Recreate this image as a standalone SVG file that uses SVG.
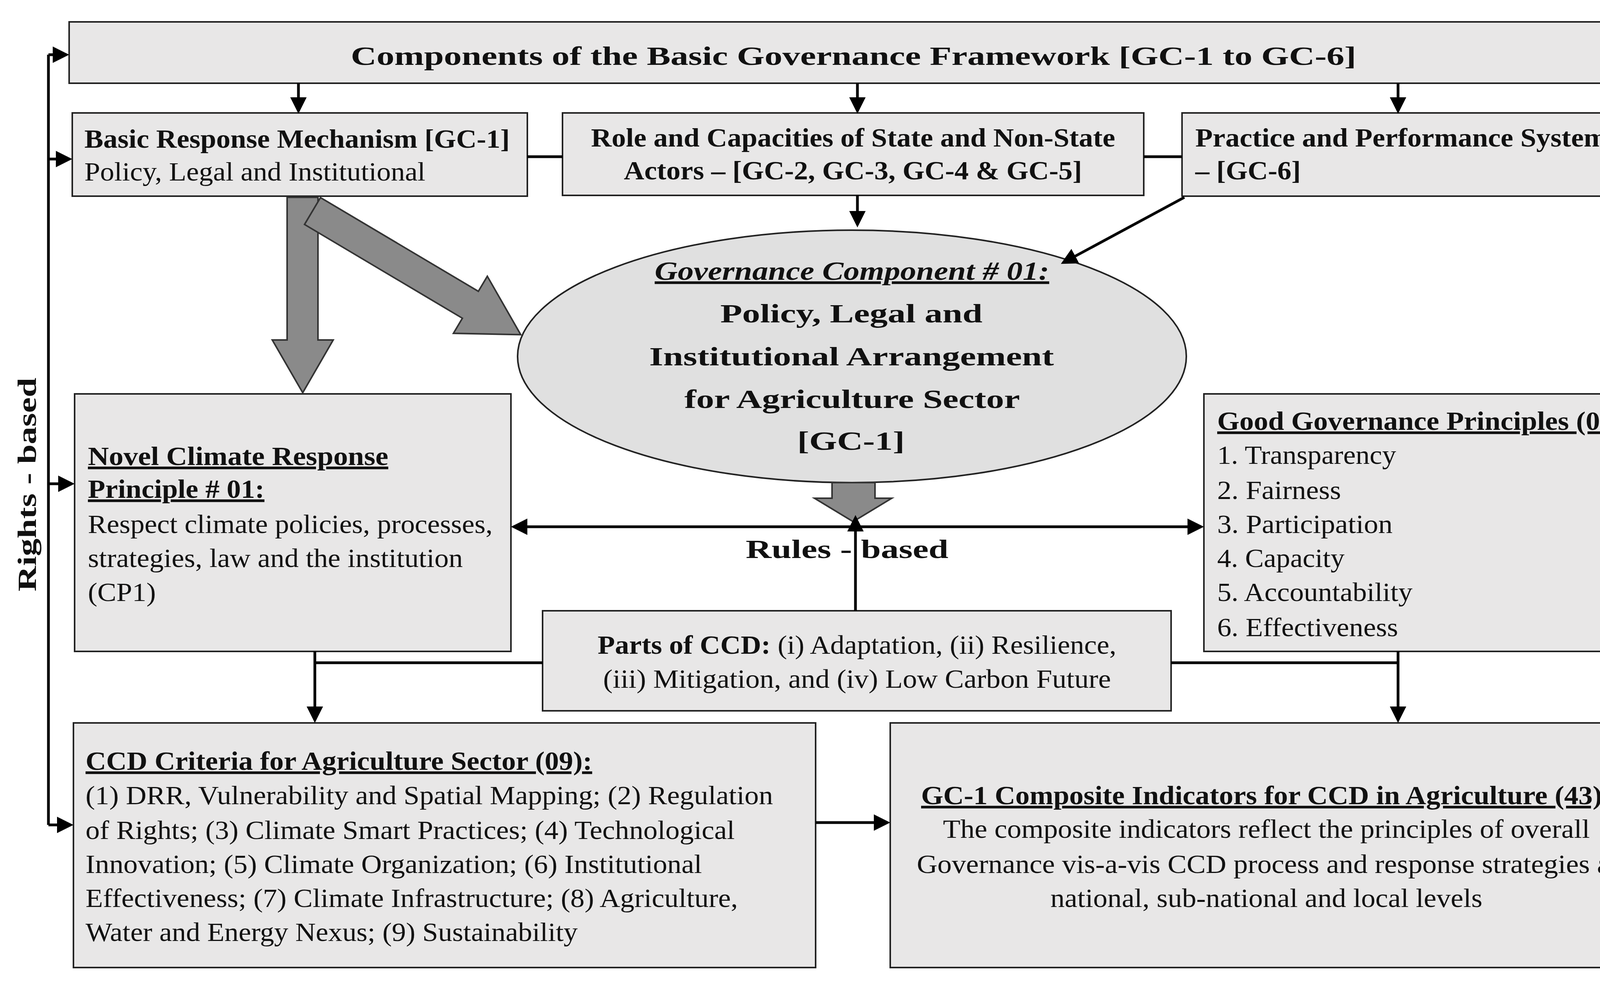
<svg xmlns="http://www.w3.org/2000/svg" width="4379" height="2513" viewBox="0 0 4379 2513">
<style>
.box{fill:#e8e7e7;stroke:#222;stroke-width:4}
.t{font-family:"Liberation Serif",serif;font-size:68px;fill:#111}
.b{font-weight:bold}
.u{text-decoration:underline}
.ln{stroke:#000;stroke-width:7;fill:none}
.blk{fill:#8a8a8a;stroke:#333;stroke-width:4}
</style>
<defs>
<marker id="ah" markerWidth="6" markerHeight="6" refX="5" refY="3" orient="auto" markerUnits="strokeWidth"><path d="M0,0 L6,3 L0,6 Z" fill="#000"/></marker>
<marker id="as" markerWidth="6" markerHeight="6" refX="1" refY="3" orient="auto" markerUnits="strokeWidth"><path d="M6,0 L0,3 L6,6 Z" fill="#000"/></marker>
</defs>
<rect width="4379" height="2513" fill="#fff"/>
<g id="top"><rect class="box" x="177" y="56" width="4022" height="157"/><text class="t b" x="898" y="166" font-size="88" textLength="2574" lengthAdjust="spacingAndGlyphs">Components of the Basic Governance Framework [GC-1 to GC-6]</text></g>
<g id="basic"><rect class="box" x="185" y="289" width="1165" height="213"/><text class="t b" x="216" y="378" textLength="1089" lengthAdjust="spacingAndGlyphs">Basic Response Mechanism  [GC-1]</text><text class="t" x="216" y="462" textLength="873" lengthAdjust="spacingAndGlyphs">Policy, Legal and Institutional</text></g>
<g id="role"><rect class="box" x="1440" y="289" width="1488" height="211"/><text class="t b" x="1513" y="375" textLength="1342" lengthAdjust="spacingAndGlyphs">Role and Capacities of State and Non-State</text><text class="t b" x="1597" y="459" textLength="1173" lengthAdjust="spacingAndGlyphs">Actors – [GC-2, GC-3, GC-4 &amp; GC-5]</text></g>
<g id="practice"><rect class="box" x="3026" y="289" width="1171" height="213"/><text class="t b" x="3060" y="375" textLength="1055" lengthAdjust="spacingAndGlyphs">Practice and Performance System</text><text class="t b" x="3060" y="459" textLength="270" lengthAdjust="spacingAndGlyphs">– [GC-6]</text></g>
<g id="gc1"><ellipse cx="2181" cy="912" rx="856" ry="323" fill="#e0e0e0" stroke="#222" stroke-width="4"/>
<text class="t b u" x="1676" y="716" font-size="74" font-style="italic" textLength="1010" lengthAdjust="spacingAndGlyphs">Governance Component # 01:</text>
<text class="t b" x="1844" y="825" font-size="88" textLength="671" lengthAdjust="spacingAndGlyphs">Policy, Legal and</text>
<text class="t b" x="1662" y="935" font-size="88" textLength="1036" lengthAdjust="spacingAndGlyphs">Institutional Arrangement</text>
<text class="t b" x="1752" y="1044" font-size="88" textLength="859" lengthAdjust="spacingAndGlyphs">for Agriculture Sector</text>
<text class="t b" x="2041" y="1151" font-size="88" textLength="275" lengthAdjust="spacingAndGlyphs">[GC-1]</text></g>
<g id="novel"><rect class="box" x="191" y="1008" width="1117" height="659"/>
<text class="t b u" x="225" y="1190" textLength="769" lengthAdjust="spacingAndGlyphs">Novel Climate  Response</text><text class="t b u" x="225" y="1274" textLength="452" lengthAdjust="spacingAndGlyphs">Principle  # 01:</text>
<text class="t" x="225" y="1364" textLength="1036" lengthAdjust="spacingAndGlyphs">Respect climate policies, processes,</text><text class="t" x="225" y="1451" textLength="960" lengthAdjust="spacingAndGlyphs">strategies, law and the institution</text><text class="t" x="225" y="1538" textLength="174" lengthAdjust="spacingAndGlyphs">(CP1)</text></g>
<g id="good"><rect class="box" x="3082" y="1008" width="1120" height="659"/>
<text class="t b u" x="3116" y="1100" textLength="1041" lengthAdjust="spacingAndGlyphs">Good Governance Principles  (06)</text>
<text class="t" x="3116" y="1187" textLength="458" lengthAdjust="spacingAndGlyphs">1.  Transparency</text><text class="t" x="3116" y="1277" textLength="317" lengthAdjust="spacingAndGlyphs">2.  Fairness</text><text class="t" x="3116" y="1364" textLength="449" lengthAdjust="spacingAndGlyphs">3.  Participation</text><text class="t" x="3116" y="1451" textLength="326" lengthAdjust="spacingAndGlyphs">4.  Capacity</text><text class="t" x="3116" y="1538" textLength="500" lengthAdjust="spacingAndGlyphs">5.  Accountability</text><text class="t" x="3116" y="1628" textLength="463" lengthAdjust="spacingAndGlyphs">6.  Effectiveness</text></g>
<g id="parts"><rect class="box" x="1389" y="1563" width="1609" height="256"/>
<text class="t" x="1530" y="1673" textLength="1328" lengthAdjust="spacingAndGlyphs"><tspan class="b">Parts of CCD:</tspan> (i) Adaptation,  (ii) Resilience,</text>
<text class="t" x="1544" y="1760" textLength="1300" lengthAdjust="spacingAndGlyphs">(iii) Mitigation, and (iv) Low Carbon Future</text></g>
<g id="criteria"><rect class="box" x="188" y="1850" width="1900" height="626"/>
<text class="t b u" x="219" y="1970" textLength="1297" lengthAdjust="spacingAndGlyphs">CCD Criteria  for Agriculture  Sector (09):</text>
<text class="t" x="219" y="2058" textLength="1760" lengthAdjust="spacingAndGlyphs">(1) DRR, Vulnerability and Spatial Mapping; (2) Regulation</text>
<text class="t" x="219" y="2147" textLength="1662" lengthAdjust="spacingAndGlyphs">of Rights; (3) Climate Smart Practices; (4) Technological</text>
<text class="t" x="219" y="2234" textLength="1578" lengthAdjust="spacingAndGlyphs">Innovation; (5) Climate Organization; (6) Institutional</text>
<text class="t" x="219" y="2321" textLength="1670" lengthAdjust="spacingAndGlyphs">Effectiveness; (7) Climate Infrastructure; (8) Agriculture,</text>
<text class="t" x="219" y="2408" textLength="1260" lengthAdjust="spacingAndGlyphs">Water and Energy  Nexus; (9) Sustainability</text></g>
<g id="composite"><rect class="box" x="2279" y="1850" width="1926" height="626"/>
<text class="t b u" x="2358" y="2058" textLength="1768" lengthAdjust="spacingAndGlyphs">GC-1 Composite Indicators  for CCD in Agriculture  (43):</text>
<text class="t" x="2414" y="2144" textLength="1656" lengthAdjust="spacingAndGlyphs">The composite indicators reflect the principles  of overall</text>
<text class="t" x="2347" y="2234" textLength="1794" lengthAdjust="spacingAndGlyphs">Governance vis-a-vis CCD process and response strategies at</text>
<text class="t" x="2689" y="2321" textLength="1106" lengthAdjust="spacingAndGlyphs">national, sub-national and local levels</text></g>
<g id="labels">
<text class="t b" x="1909" y="1428" font-size="88" textLength="519" lengthAdjust="spacingAndGlyphs">Rules - based</text>
<text class="t b" font-size="86" text-anchor="middle" textLength="547" lengthAdjust="spacingAndGlyphs" transform="translate(92,1240) rotate(-90)">Rights - based</text>
<text class="t b" font-size="84" text-anchor="middle" textLength="884" lengthAdjust="spacingAndGlyphs" transform="translate(4328,1240) rotate(-90)">Combined Approaches</text>
</g>
<g id="connectors">
<line class="ln" x1="764" y1="213" x2="764" y2="284" marker-end="url(#ah)"/>
<line class="ln" x1="2195" y1="213" x2="2195" y2="284" marker-end="url(#ah)"/>
<line class="ln" x1="3579" y1="213" x2="3579" y2="284" marker-end="url(#ah)"/>
<line class="ln" x1="1350" y1="401" x2="1440" y2="401"/>
<line class="ln" x1="2928" y1="401" x2="3026" y2="401"/>
<line class="ln" x1="2195" y1="500" x2="2195" y2="575" marker-end="url(#ah)"/>
<line class="ln" x1="3032" y1="505" x2="2722" y2="672" marker-end="url(#ah)"/>
<polygon class="blk" points="735,505 814,505 814,870 853,870 775,1005 697,870 735,870"/>
<polygon class="blk" transform="translate(800,540) rotate(30.7)" points="0,-40 470,-40 470,-85 620,0 470,85 470,40 0,40"/>
<polygon class="blk" points="2130,1235 2240,1235 2240,1275 2283,1275 2184,1335 2085,1275 2130,1275"/>
<line class="ln" x1="2190" y1="1563" x2="2190" y2="1325" marker-end="url(#ah)"/>
<line class="ln" x1="1315" y1="1348" x2="3075" y2="1348" marker-start="url(#as)" marker-end="url(#ah)"/>
<path class="ln" d="M1389,1696 H806"/>
<line class="ln" x1="806" y1="1667" x2="806" y2="1843" marker-end="url(#ah)"/>
<path class="ln" d="M2998,1696 H3579"/>
<line class="ln" x1="3579" y1="1667" x2="3579" y2="1843" marker-end="url(#ah)"/>
<line class="ln" x1="2088" y1="2105" x2="2272" y2="2105" marker-end="url(#ah)"/>
<path class="ln" d="M124,140 V2111"/>
<line class="ln" x1="124" y1="140" x2="170" y2="140" marker-end="url(#ah)"/>
<line class="ln" x1="124" y1="407" x2="178" y2="407" marker-end="url(#ah)"/>
<line class="ln" x1="124" y1="1238" x2="184" y2="1238" marker-end="url(#ah)"/>
<line class="ln" x1="124" y1="2111" x2="181" y2="2111" marker-end="url(#ah)"/>
<path class="ln" d="M4261,129 V2100"/>
<line class="ln" x1="4261" y1="129" x2="4206" y2="129" marker-end="url(#ah)"/>
<line class="ln" x1="4261" y1="407" x2="4204" y2="407" marker-end="url(#ah)"/>
<line class="ln" x1="4261" y1="1238" x2="4209" y2="1238" marker-end="url(#ah)"/>
<line class="ln" x1="4261" y1="2100" x2="4212" y2="2100" marker-end="url(#ah)"/>
</g>
</svg>
